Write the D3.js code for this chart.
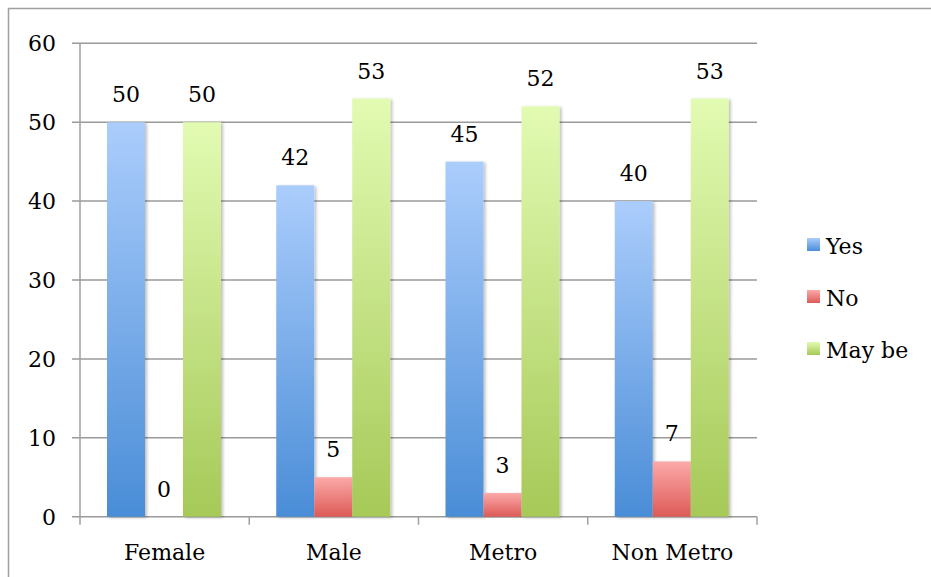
<!DOCTYPE html>
<html><head><meta charset="utf-8">
<script src="https://cdn.jsdelivr.net/npm/d3@7"></script>
<style>body{margin:0;background:#fff}svg{display:block}text{font-family:"DejaVu Serif",serif;fill:#000}</style>
</head><body>
<script>
const categories = ["Female", "Male", "Metro", "Non Metro"];
const seriesNames = ["Yes", "No", "May be"];
const yesValues = [50, 42, 45, 40];
const noValues = [0, 5, 3, 7];
const maybeValues = [50, 53, 52, 53];
const yTicks = [0, 10, 20, 30, 40, 50, 60];
const colors = {
  "Yes": ["#abcdfc", "#4a8dd7"],
  "No": ["#fbaaa9", "#dd5a57"],
  "May be": ["#e2fbb2", "#a6c958"]
};

const W = 931, H = 577;
const svg = d3.select("body").append("svg").attr("width", W).attr("height", H);
const defs = svg.append("defs");
seriesNames.forEach((s, i) => {
  const g = defs.append("linearGradient").attr("id", "grad" + i)
    .attr("x1", 0).attr("y1", 0).attr("x2", 0).attr("y2", 1);
  g.append("stop").attr("offset", "0%").attr("stop-color", colors[s][0]);
  g.append("stop").attr("offset", "100%").attr("stop-color", colors[s][1]);
});
const f = defs.append("filter").attr("id", "shadow").attr("x", "-20%").attr("y", "-5%").attr("width", "140%").attr("height", "110%");
f.append("feDropShadow").attr("dx", 2).attr("dy", 1).attr("stdDeviation", 1.5).attr("flood-color", "#000").attr("flood-opacity", 0.25);

// outer border
svg.append("rect").attr("x", 8.5).attr("y", 8.5).attr("width", W + 10).attr("height", H + 10)
  .attr("fill", "none").attr("stroke", "#a0a0a0").attr("stroke-width", 1.5);

const pLeft = 80, pRight = 757, pTop = 43.3, pBottom = 516.7;
const x = d3.scaleBand().domain(categories).range([pLeft, pRight]).padding(0);
const inner = d3.scaleBand().domain(seriesNames).range([27, 141]).padding(0);
const y = d3.scaleLinear().domain([0, 60]).range([pBottom, pTop]);

// gridlines
svg.append("g").selectAll("line").data(yTicks).join("line")
  .attr("x1", pLeft - 8).attr("x2", pRight)
  .attr("y1", d => y(d)).attr("y2", d => y(d))
  .attr("stroke", "#9a9a9a").attr("stroke-width", 1.5);
// y axis line
svg.append("line").attr("x1", pLeft).attr("x2", pLeft).attr("y1", pTop).attr("y2", pBottom + 8)
  .attr("stroke", "#a0a0a0").attr("stroke-width", 1.5);
// x category ticks
const bounds = categories.map(c => x(c)).concat([pRight]);
svg.append("g").selectAll("line").data(bounds.slice(1)).join("line")
  .attr("x1", d => d).attr("x2", d => d).attr("y1", pBottom).attr("y2", pBottom + 8)
  .attr("stroke", "#a0a0a0").attr("stroke-width", 1.5);

// y tick labels
svg.append("g").selectAll("text").data(yTicks).join("text")
  .attr("x", 56).attr("y", d => y(d) + 8).attr("text-anchor", "end")
  .attr("font-size", 22).text(d => d);

// x labels
svg.append("g").selectAll("text").data(categories).join("text")
  .attr("x", d => x(d) + x.bandwidth() / 2).attr("y", 560).attr("text-anchor", "middle")
  .attr("font-size", 22).text(d => d);

const series = [yesValues, noValues, maybeValues];
const rows = [];
categories.forEach((c, ci) => seriesNames.forEach((s, si) => rows.push({c, s, si, v: series[si][ci]})));

svg.append("g").selectAll("rect").data(rows.filter(d => d.v > 0)).join("rect")
  .attr("x", d => x(d.c) + inner(d.s))
  .attr("width", inner.bandwidth())
  .attr("y", d => y(d.v)).attr("height", d => pBottom - y(d.v))
  .attr("fill", d => `url(#grad${d.si})`)
  .attr("filter", "url(#shadow)");

svg.append("g").selectAll("text").data(rows).join("text")
  .attr("x", d => x(d.c) + inner(d.s) + inner.bandwidth() / 2)
  .attr("y", d => y(d.v) - 20).attr("text-anchor", "middle")
  .attr("font-size", 22).text(d => d.v);

// legend
const lg = svg.append("g").selectAll("g").data(seriesNames).join("g")
  .attr("transform", (d, i) => `translate(807, ${238 + i * 52})`);
lg.append("rect").attr("width", 13).attr("height", 13).attr("fill", (d, i) => `url(#grad${i})`);
lg.append("text").attr("x", 19).attr("y", 16).attr("font-size", 22).text(d => d);
</script>
</body></html>
